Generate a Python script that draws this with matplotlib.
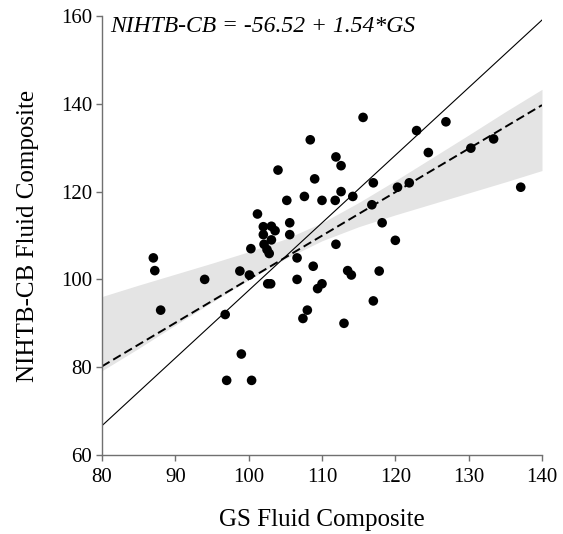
import matplotlib
matplotlib.use("Agg")
import matplotlib.pyplot as plt
import numpy as np

# ---- data ----
gs = [115.6, 108.4, 111.9, 112.6, 104.0, 109.0, 117.0, 112.6, 107.6, 105.2,
      110.0, 111.8, 114.2, 116.8, 101.2, 118.2, 105.6, 102.0, 103.1, 103.6,
      102.0, 105.6, 103.1, 102.1, 100.3, 102.5, 102.8, 111.9, 106.6, 98.8,
      100.1, 108.8, 113.5, 114.0, 117.8, 102.6, 103.0, 106.6, 110.0, 109.4,
      117.0, 108.0, 107.4, 113.0, 99.0, 87.0, 87.2, 88.0, 94.0, 96.8,
      97.0, 100.4, 120.0, 122.9, 126.9, 124.5, 130.3, 133.4, 120.3, 121.9,
      137.1]
nihtb = [136.9, 131.8, 127.9, 125.9, 124.9, 122.9, 122.0, 120.0, 118.9, 118.0,
         118.0, 118.0, 118.9, 117.0, 114.9, 112.9, 112.9, 112.0, 112.1, 111.1,
         110.2, 110.2, 109.0, 108.0, 107.0, 106.8, 105.9, 108.0, 104.9, 101.9,
         101.0, 103.0, 102.0, 101.0, 101.9, 99.0, 99.0, 100.0, 99.0, 97.9,
         95.1, 93.0, 91.1, 90.0, 83.0, 104.9, 102.0, 93.0, 100.0, 92.0,
         77.0, 77.0, 108.9, 133.9, 135.9, 128.9, 129.9, 132.0, 121.0, 122.0,
         121.0]

eq_intercept = -56.52
eq_slope = 1.54

fit_x = [80, 140]
fit_y = [80.2, 139.7]

band_x = [80, 85, 90, 95, 100, 105, 110, 115, 120, 125, 130, 135, 140]
band_lo = [79.2, 84.3, 89.6, 94.8, 99.9, 104.7, 108.8, 112.0, 114.7, 117.2, 119.7, 122.2, 124.8]
band_hi = [96.1, 98.7, 101.2, 103.7, 106.3, 109.2, 112.9, 117.5, 122.5, 127.7, 132.9, 138.2, 143.3]

x_ticks = [80, 90, 100, 110, 120, 130, 140]
y_ticks = [60, 80, 100, 120, 140, 160]

title_text = "NIHTB-CB = -56.52 + 1.54*GS"
x_label = "GS Fluid Composite"
y_label = "NIHTB-CB Fluid Composite"

# ---- figure ----
serif = ["Liberation Serif", "DejaVu Serif"]
fig = plt.figure(figsize=(5.63, 5.34), dpi=100)
ax = fig.add_axes([102 / 563, 1 - 455 / 534, 440 / 563, 439 / 534])

ax.fill_between(band_x, band_lo, band_hi, color="#e4e4e4", linewidth=0, zorder=1)
ax.plot(fit_x, fit_y, color="black", lw=1.4, dashes=(4.5, 2.2), zorder=2)
ex = np.array([80, 140])
ax.plot(ex, eq_intercept + eq_slope * ex, color="black", lw=0.8, zorder=2)
ax.scatter(gs, nihtb, s=48, color="black", edgecolors="none", zorder=3)

ax.set_xlim(80, 140)
ax.set_ylim(60, 160)
ax.set_xticks(x_ticks)
ax.set_yticks(y_ticks)
ax.set_xticklabels([str(t) for t in x_ticks], family=serif, fontsize=15)
ax.set_yticklabels([str(t) for t in y_ticks], family=serif, fontsize=15)

for s in ["top", "right"]:
    ax.spines[s].set_visible(False)
for s in ["left", "bottom"]:
    ax.spines[s].set_color("#707070")
    ax.spines[s].set_linewidth(1.0)
ax.tick_params(direction="out", length=4, width=1.0, color="#707070",
               labelcolor="black")
ax.tick_params(axis="x", pad=5)
ax.tick_params(axis="y", pad=3)

ax.set_xlabel(x_label, family=serif, fontsize=18, labelpad=16)
ax.set_ylabel(y_label, family=serif, fontsize=18, labelpad=16)

ax.text(81.1, 157.7, title_text, family=serif, style="italic", fontsize=17,
        ha="left", va="center")

fig.savefig("out.png", dpi=100)
